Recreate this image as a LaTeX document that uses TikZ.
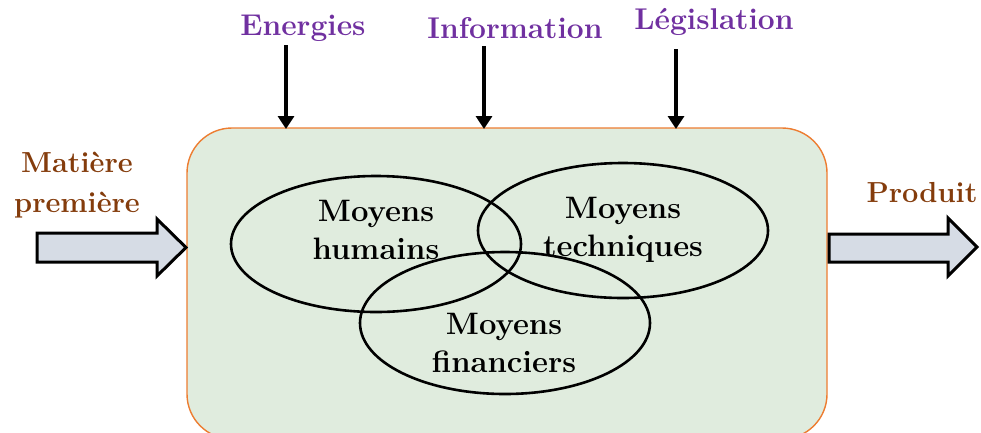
\documentclass[tikz,border=0pt]{standalone}
\usetikzlibrary{arrows.meta}
\definecolor{purp}{HTML}{7030A0}
\definecolor{brn}{HTML}{843C0C}
\definecolor{boxfill}{HTML}{E0ECDE}
\definecolor{boxline}{HTML}{ED7D31}
\definecolor{arrfill}{HTML}{D6DCE5}
\tikzset{
  toplabel/.style={text=purp, font=\fontsize{30}{34}\selectfont\bfseries, inner sep=0pt},
  sidelabel/.style={text=brn, font=\fontsize{29}{40}\selectfont\bfseries, align=center, inner sep=0pt},
  inlabel/.style={text=black, font=\fontsize{31}{38}\selectfont\bfseries, align=center, inner sep=0pt},
  downarrow/.style={line width=4pt, -{Triangle[width=16pt,length=13pt]}},
  blockarrow/.style={fill=arrfill, draw=black, line width=3pt, line join=miter},
  venn/.style={draw=black, line width=2.6pt},
}
\begin{document}
\begin{tikzpicture}[x=1pt,y=-1pt]
\useasboundingbox (0,0) rectangle (981,432);
% main box
\draw[fill=boxfill, draw=boxline, line width=1.4pt, rounded corners=45pt] (187,128) rectangle (827,439);
% ellipses
\draw[venn] (376,244) ellipse [x radius=145, y radius=68];
\draw[venn] (623,230.5) ellipse [x radius=145, y radius=67.5];
\draw[venn] (505,323) ellipse [x radius=145, y radius=71];
\node[inlabel] (hum) at (376,230) {Moyens\\humains};
\node[inlabel] (tech) at (623,230) {Moyens\\techniques};
\node[inlabel] (fin) at (504,343) {Moyens\\financiers};
% top labels and arrows
\node[toplabel] (ene) at (303,28) {Energies};
\node[toplabel] (inf) at (515,28) {Information};
\node[toplabel] (leg) at (714,22) {Législation};
\coordinate (eneA) at (286,45);
\coordinate (eneB) at (286,129);
\coordinate (infA) at (484,46);
\coordinate (infB) at (484,129);
\coordinate (legA) at (676,49);
\coordinate (legB) at (676,129);
\draw[downarrow] (eneA) -- (eneB);
\draw[downarrow] (infA) -- (infB);
\draw[downarrow] (legA) -- (legB);
% side labels
\node[sidelabel] (mat) at (77,185) {Matière\\première};
\node[sidelabel] (prod) at (922,193) {Produit};
% block arrows
\draw[blockarrow] (37,233) -- (157,233) -- (157,219) -- (186,247.5) -- (157,276) -- (157,262) -- (37,262) -- cycle;
\draw[blockarrow] (829,234) -- (948,234) -- (948,218) -- (977,247) -- (948,276) -- (948,262) -- (829,262) -- cycle;
\end{tikzpicture}
\end{document}
